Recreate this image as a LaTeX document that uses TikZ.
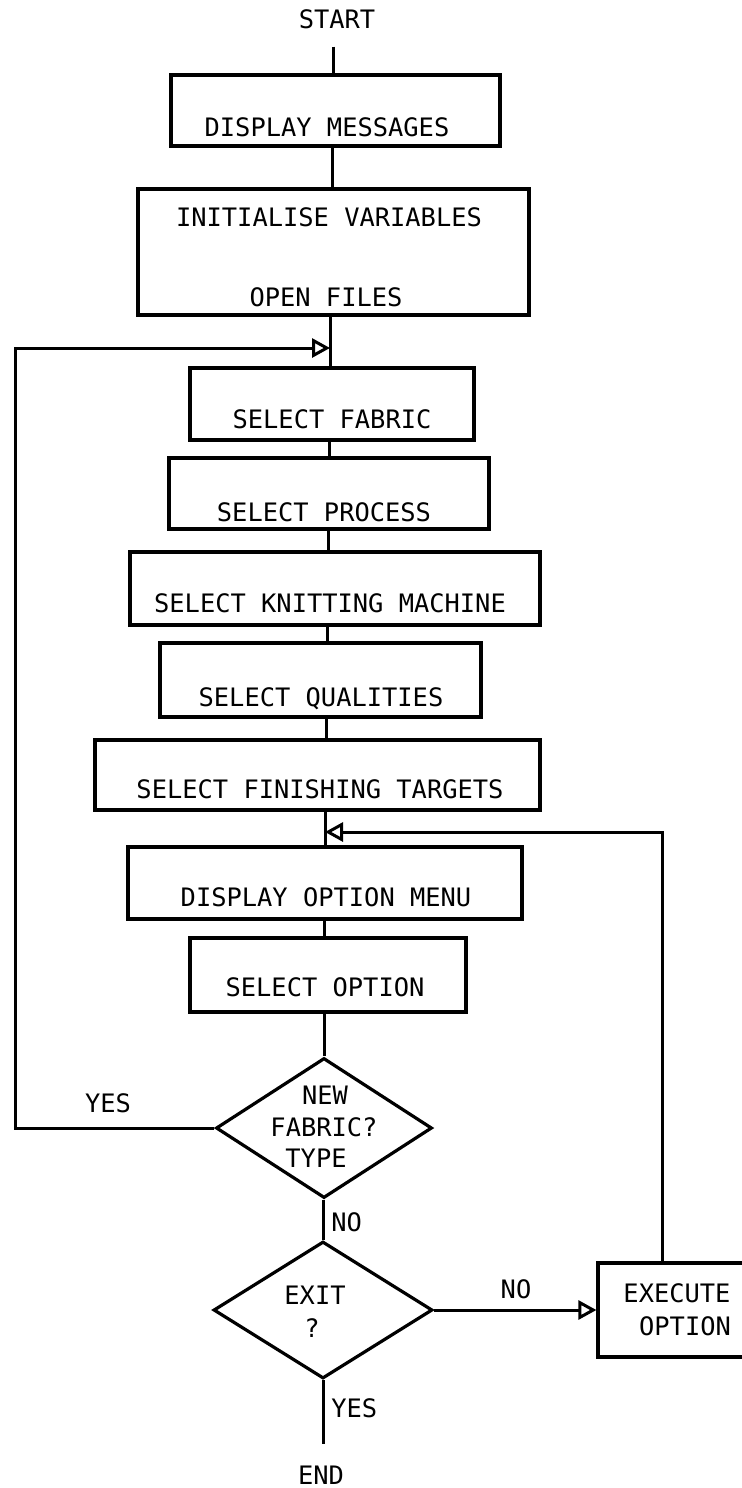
\documentclass[tikz,border=0pt]{standalone}
\usepackage{fontspec}
\setmonofont{DejaVu Sans Mono}
\usetikzlibrary{shapes.geometric,arrows.meta}
\begin{document}
\begin{tikzpicture}[x=0.5pt,y=-0.5pt,
  every node/.style={font=\ttfamily\fontsize{12.7}{15}\selectfont},
  wh/.style 2 args={minimum width=#1*0.5pt,minimum height=#2*0.5pt},
  box/.style={draw,rectangle,line width=1.6pt,inner sep=0pt},
  dia/.style={draw,diamond,line width=1.6pt,inner sep=0pt},
  txt/.style={inner sep=0pt,text height=9.3pt,text depth=0pt},
  link/.style={line width=1.5pt},
  arr/.style={link,-{Triangle[open,length=9pt,width=9.5pt]}}]
% page
\fill[white] (0,0) rectangle (742,1488);
\useasboundingbox (0,0) rectangle (742,1488);

% terminals
\node[txt] (start) at (337,19) {START};
\node[txt] (stop) at (321,1475) {END};

% process boxes
\node[box,wh={329}{71}]  (dm)   at (335.5,110.5) {};
\node[txt] (dmt) at (327,127) {DISPLAY MESSAGES};

\node[box,wh={391}{126}] (init) at (333.5,252) {};
\node[txt] (initA) at (329,217) {INITIALISE VARIABLES};
\node[txt] (initB) at (326,297) {OPEN FILES};

\node[box,wh={284}{72}]  (sf)   at (332,404) {};
\node[txt] (sft) at (332,419) {SELECT FABRIC};

\node[box,wh={320}{71}]  (sp)   at (329,493.5) {};
\node[txt] (spt) at (324,512) {SELECT PROCESS};

\node[box,wh={410}{73}]  (skm)  at (335,588.5) {};
\node[txt] (skmt) at (330,603) {SELECT KNITTING MACHINE};

\node[box,wh={321}{74}]  (sq)   at (320.5,680) {};
\node[txt] (sqt) at (321,697) {SELECT QUALITIES};

\node[box,wh={445}{70}]  (fin)  at (317.5,775) {};
\node[txt] (fint) at (320,789) {SELECT FINISHING TARGETS};

\node[box,wh={394}{72}]  (dom)  at (325,883) {};
\node[txt] (domt) at (326,897) {DISPLAY OPTION MENU};

\node[box,wh={276}{74}]  (so)   at (328,975) {};
\node[txt] (sot) at (325,987) {SELECT OPTION};

\node[box,wh={162}{94}]  (ex)   at (679,1310) {};
\node[txt] (exA) at (677,1293) {EXECUTE};
\node[txt] (exB) at (685,1326) {OPTION};

% decisions
\node[dia,wh={216}{140}] (d1) at (324,1128) {};
\node[txt] (d1a) at (325,1095) {NEW};
\node[txt] (d1b) at (324,1127) {FABRIC?};
\node[txt] (d1c) at (316,1158) {TYPE};

\node[dia,wh={219}{137}] (d2) at (323,1310) {};
\node[txt] (d2a) at (315,1295) {EXIT};
\node[txt] (d2b) at (312,1328) {?};

% branch labels
\node[txt] (yes1) at (108,1103) {YES};
\node[txt,anchor=west] (no1) at (331,1222) {NO};
\node[txt] (no2) at (516,1289) {NO};
\node[txt,anchor=west] (yes2) at (331,1408) {YES};

% junctions of the return paths
\coordinate (j1) at (330,348);
\coordinate (j2) at (325,832);
\coordinate (lc) at (15,0);

% main flow
\draw[link] ([yshift=-9pt]start.south -| 333,0) -- (dm.north -| 333,0);
\draw[link] (dm.south -| 332,0) -- (init.north -| 332,0);
\draw[link] (init.south -| 330,0) -- (sf.north -| 330,0);
\draw[link] (sf.south -| 329,0) -- (sp.north -| 329,0);
\draw[link] (sp.south -| 328,0) -- (skm.north -| 328,0);
\draw[link] (skm.south -| 327,0) -- (sq.north -| 327,0);
\draw[link] (sq.south -| 326,0) -- (fin.north -| 326,0);
\draw[link] (fin.south -| 325,0) -- (dom.north -| 325,0);
\draw[link] (dom.south -| 324,0) -- (so.north -| 324,0);
\draw[link] (d1.north |- so.south) -- (d1.north);
\draw[link] (d2.north |- d1.south) -- (d2.north);
\draw[link] (d2.south) -- ([yshift=10.5pt]stop.north -| d2.south);

% return paths
\draw[arr] (d1.west) -- (d1.west -| lc) |- (j1);
\draw[arr] (ex.north -| 662,0) |- (j2);
\draw[arr] (d2.east) -- (ex.west);
\end{tikzpicture}
\end{document}
